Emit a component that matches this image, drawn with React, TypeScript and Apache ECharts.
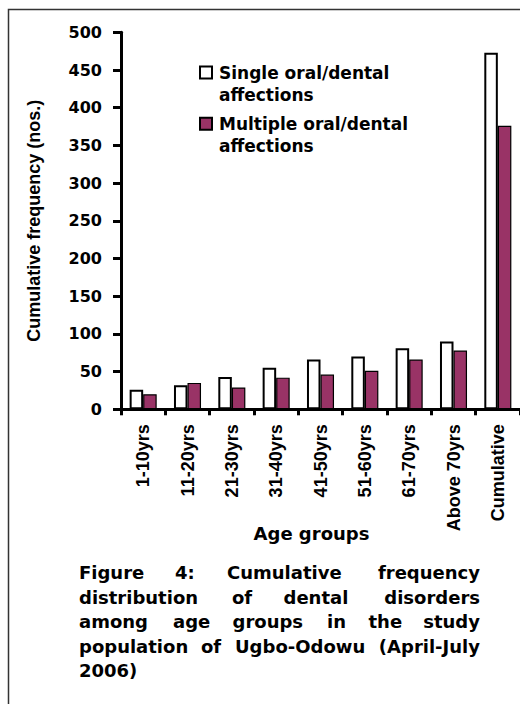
import React, { useEffect, useRef } from "react";
import * as echarts from "echarts";

const categories = [
  "1-10yrs",
  "11-20yrs",
  "21-30yrs",
  "31-40yrs",
  "41-50yrs",
  "51-60yrs",
  "61-70yrs",
  "Above 70yrs",
  "Cumulative",
];
const singleValues = [26, 32, 43, 55, 66, 70, 81, 90, 473];
const multipleValues = [20, 35, 29, 42, 46, 51, 66, 78, 376];
const seriesNames = ["Single oral/dental affections", "Multiple oral/dental affections"];
const legendLabels = ["Single oral/dental\naffections", "Multiple oral/dental\naffections"];
const yAxisTitle = "Cumulative frequency (nos.)";
const xAxisTitle = "Age groups";
const yMin = 0;
const yMax = 500;
const yStep = 50;
const captionLines = [
  ["Figure", "4:", "Cumulative", "frequency"],
  ["distribution", "of", "dental", "disorders"],
  ["among", "age", "groups", "in", "the", "study"],
  ["population", "of", "Ugbo-Odowu", "(April-July"],
  ["2006)"],
];

export default function App() {
  const ref = useRef<HTMLDivElement>(null);

  useEffect(() => {
    if (!ref.current) return;
    const chart = echarts.init(ref.current, null, { renderer: "svg" });
    const wide = "DejaVu Sans";
    const plain = "Liberation Sans";

    // caption layout (word left positions; last word of justified lines right-aligned)
    const capX = [
      [79, 175, 227, 480],
      [79, 232, 283.5, 480],
      [79, 173, 232.5, 327, 368.5, 480],
      [79, 201, 235, 480],
      [79],
    ];
    const capY = [572.7, 597.3, 621.7, 646.7, 670.7];
    const justified = [true, true, true, true, false];
    const captionGraphics: any[] = [];
    captionLines.forEach((words, li) => {
      words.forEach((w, wi) => {
        const isLast = justified[li] && wi === words.length - 1;
        captionGraphics.push({
          type: "text",
          x: capX[li][wi],
          y: capY[li],
          silent: true,
          style: {
            text: w,
            font: `bold 18px "${wide}"`,
            fill: "#000",
            align: isLast ? "right" : "left",
            verticalAlign: "middle",
          },
        });
      });
    });

    const legendFor = (i: number, top: number) => ({
      data: [seriesNames[i]],
      left: 199,
      top,
      padding: 0,
      orient: "vertical",
      itemWidth: 12,
      itemHeight: 12,
      itemGap: 0,
      icon: "rect",
      selectedMode: false,
      formatter: () => "\n" + legendLabels[i],
      textStyle: {
        fontFamily: wide,
        fontWeight: "bold",
        fontSize: 17,
        color: "#000",
        lineHeight: 22.5,
        padding: [0, 0, 0, 2],
      },
    });

    chart.setOption({
      animation: false,
      backgroundColor: "#fff",
      grid: { left: 121, top: 32.3, width: 399, height: 377, containLabel: false },
      legend: [legendFor(0, 38.75), legendFor(1, 90)],
      xAxis: {
        type: "category",
        data: categories,
        name: xAxisTitle,
        nameLocation: "middle",
        nameGap: 115,
        nameMoveOverlap: false,
        nameTextStyle: {
          fontFamily: wide,
          fontWeight: "bold",
          fontSize: 18,
          color: "#000",
          padding: [0, 18, 0, 0],
        },
        axisLine: { lineStyle: { color: "#000", width: 3 } },
        axisTick: { show: true, length: 6, lineStyle: { color: "#000", width: 3 } },
        axisLabel: {
          rotate: 90,
          margin: 15,
          interval: 0,
          fontFamily: plain,
          fontWeight: "bold",
          fontSize: 18,
          color: "#000",
        },
      },
      yAxis: {
        type: "value",
        min: yMin,
        max: yMax,
        interval: yStep,
        name: yAxisTitle,
        nameLocation: "middle",
        nameGap: 78,
        nameMoveOverlap: false,
        nameTextStyle: {
          fontFamily: plain,
          fontWeight: "bold",
          fontSize: 18,
          color: "#000",
        },
        axisLine: { show: true, lineStyle: { color: "#000", width: 3 } },
        axisTick: { show: true, length: 8, lineStyle: { color: "#000", width: 3 } },
        splitLine: { show: false },
        axisLabel: {
          margin: 19,
          fontFamily: wide,
          fontWeight: "bold",
          fontSize: 16,
          color: "#000",
        },
      },
      series: [
        {
          name: seriesNames[0],
          type: "bar",
          data: singleValues,
          barGap: "0%",
          barCategoryGap: "39%",
          itemStyle: { color: "#ffffff", borderColor: "#000", borderWidth: 2 },
        },
        {
          name: seriesNames[1],
          type: "bar",
          data: multipleValues,
          itemStyle: { color: "#993366", borderColor: "#000", borderWidth: 1.2 },
        },
      ],
      graphic: [
        {
          type: "rect",
          silent: true,
          z: -10,
          shape: { x: 8.5, y: 9.5, width: 800, height: 900 },
          style: { fill: "none", stroke: "#333", lineWidth: 1.5 },
        },
        ...captionGraphics,
      ],
    });

    return () => chart.dispose();
  }, []);

  return (
    <div
      ref={ref}
      style={{ position: "absolute", left: 0, top: 0, width: 520, height: 704 }}
    />
  );
}
